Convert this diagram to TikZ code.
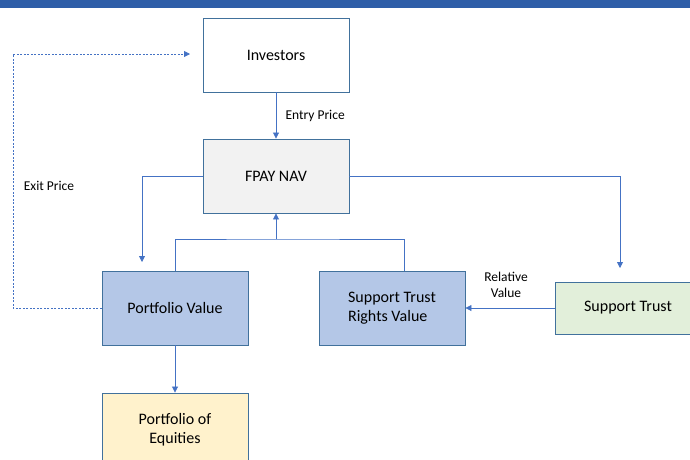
\documentclass[tikz,border=0pt]{standalone}
\usepackage{fontspec}
\setmainfont{Carlito}
\usetikzlibrary{calc,arrows.meta,positioning}
\definecolor{barblue}{HTML}{2E5EA8}
\definecolor{edgeblue}{HTML}{4472C4}
\definecolor{boxline}{HTML}{41719C}
\definecolor{navgray}{HTML}{F2F2F2}
\definecolor{valueblue}{HTML}{B4C7E7}
\definecolor{trustgreen}{HTML}{E2EFDA}
\definecolor{equityyellow}{HTML}{FFF2CC}
\tikzstyle{box}   = [rectangle, draw=boxline, line width=0.9pt, minimum width=146pt,
                     minimum height=74pt, align=center, font=\fontsize{16}{19}\selectfont]
\tikzstyle{arrow} = [edgeblue, line width=0.8pt, -{Triangle[length=6pt,width=6pt]}]
\tikzstyle{link}  = [edgeblue, line width=0.8pt]
\tikzstyle{lbl}   = [font=\fontsize{13.5}{16}\selectfont, align=center]

\begin{document}
\begin{tikzpicture}[x=1pt,y=-1pt]
		\clip (0,0) rectangle (690,459);
		\useasboundingbox (0,0) rectangle (690,459);
		\fill[barblue] (0,0) rectangle (690,8);

		% boxes
		\node[box, fill=white]        (investors) at (276,55)  {Investors};
		\node[box, fill=navgray]      (nav)       at (276,176) {FPAY NAV};
		\node[box, fill=valueblue]    (portfolio) at (175,308) {Portfolio Value};
		\node[box, fill=valueblue, align=left] (rights) at (392,308) {Support Trust\\Rights Value};
		\node[box, fill=trustgreen, minimum height=52pt] (trust) at (628,308) {Support Trust};
		\node[box, fill=equityyellow] (equities)  at (175,430) {Portfolio of\\Equities};

		% helper points
		\coordinate (navleft)  at (142,262);
		\coordinate (navright) at (620,268);
		\coordinate (joint)    at (276,239);
		\coordinate (rightsin) at ([xshift=12pt]rights.north);
		\coordinate (exitturn) at (13,308);
		\coordinate (exitend)  at (190,54);

		% connectors
		\draw[arrow] (investors) -- (nav);
		\node[lbl, right=6pt of $(investors.south)!0.5!(nav.north)$] (entry) {Entry Price};
		\draw[arrow] (nav.west) -| (navleft);
		\draw[arrow] (nav.east) -| (navright);
		\draw[link] (portfolio.north) |- (joint) -| (rightsin);
		\draw[arrow] (joint) -- (nav.south);
		\draw[arrow] (trust.west) -- (rights.east);
		\node[lbl] (relative) at (506,285) {Relative\\Value};
		\draw[arrow] (portfolio) -- (equities);
		\draw[arrow, dash pattern=on 2pt off 1.5pt, line width=0.8pt] (portfolio.west) -- (exitturn) |- (exitend);
		\node[lbl] (exit) at (49,186) {Exit Price};
	\end{tikzpicture}
\end{document}
